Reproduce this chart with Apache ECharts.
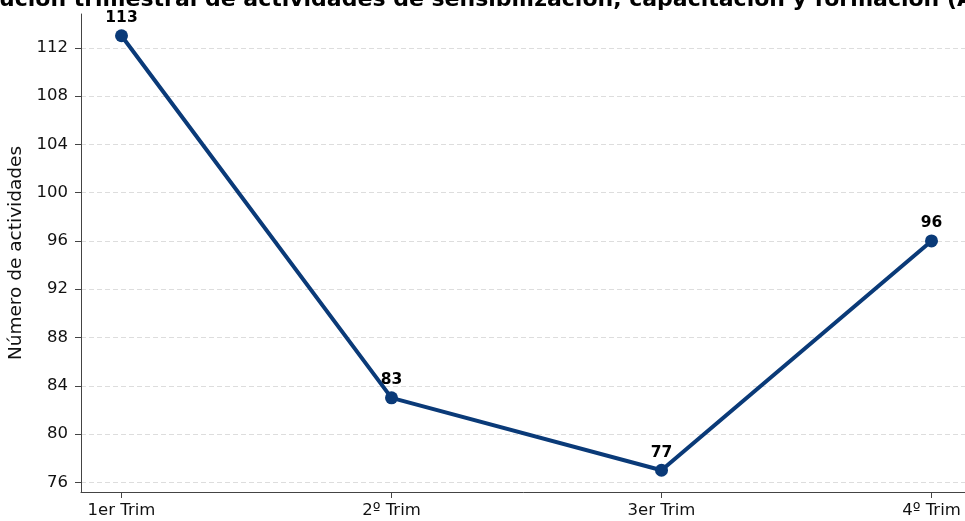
<!DOCTYPE html>
<html>
<head>
<meta charset="utf-8">
<script src="https://cdn.jsdelivr.net/npm/echarts@6/dist/echarts.min.js"></script>
<style>html,body{margin:0;padding:0;background:#fff}#c{width:965px;height:521px}</style>
</head>
<body>
<div id="c"></div>
<script>
const titleText = 'Evolución trimestral de actividades de sensibilización, capacitación y formación (Año 2024)';
const categories = ['1er Trim', '2º Trim', '3er Trim', '4º Trim'];
const values = [113, 83, 77, 96];
const yTicks = [76, 80, 84, 88, 92, 96, 100, 104, 108, 112];
const yLabel = 'Número de actividades';

const xIdx = categories.map((_, i) => i);
const font = 'DejaVu Sans';
const chart = echarts.init(document.getElementById('c'));
chart.setOption({
  animation: false,
  title: {
    text: titleText, left: -53, top: -11, padding: 0,
    textStyle: { fontFamily: font, fontSize: 22, fontWeight: 'bold', color: '#000' }
  },
  grid: { left: 81, right: -7, top: 14, bottom: 29, containLabel: false, outerBoundsMode: 'none' },
  xAxis: {
    type: 'value', min: -0.15, max: 3.15,
    axisLine: { show: true, onZero: false, lineStyle: { color: '#444', width: 1 } },
    axisTick: { show: true, customValues: xIdx, length: 6, lineStyle: { color: '#444' } },
    axisLabel: { customValues: xIdx, formatter: v => categories[Math.round(v)] || '', fontFamily: font, fontSize: 16.5, color: '#111', margin: 10 },
    splitLine: { show: false }
  },
  yAxis: {
    type: 'value', min: 75.2, max: 114.8,
    name: yLabel, nameLocation: 'middle', nameGap: 54, nameRotate: 90,
    nameTextStyle: { fontFamily: font, fontSize: 18.5, color: '#111' },
    axisLine: { show: true, onZero: false, lineStyle: { color: '#444', width: 1 } },
    axisTick: { show: true, customValues: yTicks, length: 6, lineStyle: { color: '#444' } },
    axisLabel: { customValues: yTicks, fontFamily: font, fontSize: 16.5, color: '#111', margin: 13 },
    splitLine: { show: true, lineStyle: { color: '#dddddd', width: 1, type: [5, 3] } }
  },
  series: [{
    type: 'line',
    data: values.map((v, i) => [xIdx[i], v]),
    symbol: 'circle', symbolSize: 13,
    lineStyle: { color: '#0a3a78', width: 4 },
    itemStyle: { color: '#0a3a78' },
    label: { show: true, position: 'top', distance: 3, fontFamily: font, fontSize: 15.5, fontWeight: 'bold', color: '#000', formatter: p => p.value[1] }
  }]
});
</script>
</body>
</html>
